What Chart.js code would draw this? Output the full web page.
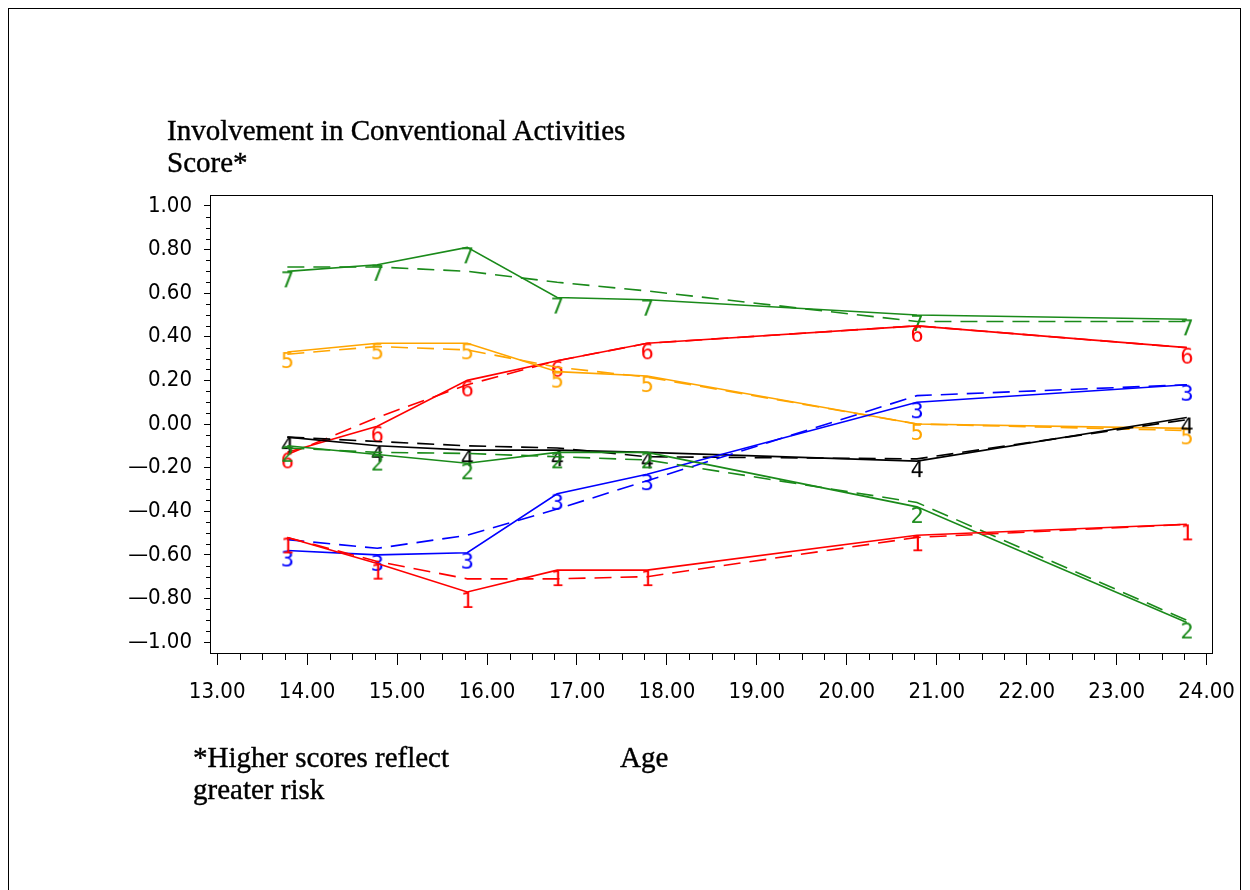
<!DOCTYPE html>
<html>
<head>
<meta charset="utf-8">
<script src="https://cdn.jsdelivr.net/npm/chart.js@4.4.1/dist/chart.umd.min.js"></script>
<style>
  body { margin: 0; background: #fff; width: 1250px; height: 890px; overflow: hidden; position: relative; }
  #frame { position: absolute; left: 8px; top: 8px; width: 1231px; height: 900px; border: 1px solid #000; border-bottom: none; }
  #wrap { position: absolute; left: 0; top: 0; width: 1250px; height: 890px; }
  .lbl { position: absolute; font-family: "Liberation Serif", "Times New Roman", serif; font-size: 29px; color: #000; white-space: nowrap; line-height: 1; -webkit-text-stroke: 0.4px #000; }
</style>
</head>
<body>
<div id="frame"></div>
<div id="wrap"><canvas id="chart" width="1250" height="890"></canvas></div>
<div class="lbl" style="left:167px; top:116px;">Involvement in Conventional Activities</div>
<div class="lbl" style="left:167px; top:148px;">Score*</div>
<div class="lbl" style="left:193px; top:743px;">*Higher scores reflect</div>
<div class="lbl" style="left:193px; top:775px;">greater risk</div>
<div class="lbl" style="left:620px; top:743px;">Age</div>
<script>
// ages at each wave
var ages = [13.78, 14.78, 15.78, 16.78, 17.78, 20.78, 23.78];

// observed (solid) and predicted (dashed) trajectories, one pair per group
var obs1 = [-0.52, -0.64, -0.77, -0.67, -0.67, -0.51, -0.46];
var pred1 = [-0.52, -0.63, -0.71, -0.71, -0.70, -0.52, -0.46];
var obs2 = [-0.10, -0.14, -0.18, -0.13, -0.13, -0.38, -0.91];
var pred2 = [-0.11, -0.13, -0.135, -0.15, -0.165, -0.36, -0.90];
var obs3 = [-0.58, -0.60, -0.59, -0.32, -0.23, 0.10, 0.18];
var pred3 = [-0.53, -0.57, -0.51, -0.39, -0.26, 0.13, 0.18];
var obs4 = [-0.06, -0.10, -0.12, -0.12, -0.13, -0.17, 0.03];
var pred4 = [-0.06, -0.08, -0.10, -0.11, -0.15, -0.16, 0.02];
var obs5 = [0.33, 0.37, 0.37, 0.24, 0.22, 0.00, -0.02];
var pred5 = [0.32, 0.355, 0.34, 0.26, 0.215, 0.00, -0.03];
var obs6 = [-0.13, -0.01, 0.20, 0.29, 0.37, 0.45, 0.35];
var pred6 = [-0.14, 0.03, 0.18, 0.29, 0.37, 0.45, 0.35];
var obs7 = [0.70, 0.73, 0.81, 0.58, 0.57, 0.50, 0.48];
var pred7 = [0.72, 0.72, 0.70, 0.65, 0.61, 0.47, 0.47];

var groupNames = ["1", "2", "3", "4", "5", "6", "7"];
var groupColors = ["#ff0000", "#1a8a1a", "#0000ff", "#000000", "#ffa500", "#ff0000", "#1a8a1a"];

var xTicks = [13, 14, 15, 16, 17, 18, 19, 20, 21, 22, 23, 24];
var xTickLabels = ["13.00", "14.00", "15.00", "16.00", "17.00", "18.00", "19.00", "20.00", "21.00", "22.00", "23.00", "24.00"];
var yTicks = [1, 0.8, 0.6, 0.4, 0.2, 0, -0.2, -0.4, -0.6, -0.8, -1];
var yTickLabels = ["1.00", "0.80", "0.60", "0.40", "0.20", "0.00", "\u20140.20", "\u20140.40", "\u20140.60", "\u20140.80", "\u20141.00"];

var tickFont = '"Liberation Sans Narrow", "DejaVu Sans Condensed", "Liberation Sans", sans-serif';

// small canvas with the group number, used as the point symbol
function digitSymbol(txt, color) {
  var c = document.createElement("canvas");
  c.width = 20;
  c.height = 40;
  var g = c.getContext("2d");
  g.fillStyle = color;
  g.font = '22px "DejaVu Sans Mono", monospace';
  g.textAlign = "center";
  g.textBaseline = "alphabetic";
  g.fillText(txt, 10, 36);
  return c;
}

function toPoints(vals) {
  return vals.map(function(v, i) { return { x: ages[i], y: v }; });
}

var observed = [obs1, obs2, obs3, obs4, obs5, obs6, obs7];
var predicted = [pred1, pred2, pred3, pred4, pred5, pred6, pred7];
var datasets = [];
for (var i = 0; i < groupNames.length; i++) {
  datasets.push({
    label: "Group " + groupNames[i],
    data: toPoints(observed[i]),
    borderColor: groupColors[i],
    borderWidth: 1.6,
    pointStyle: digitSymbol(groupNames[i], groupColors[i]),
    pointRadius: 5,
    tension: 0
  });
  datasets.push({
    label: "Group " + groupNames[i] + " predicted",
    data: toPoints(predicted[i]),
    borderColor: groupColors[i],
    borderWidth: 1.6,
    borderDash: [17, 9],
    pointRadius: 0,
    tension: 0
  });
}

// box around the plot plus the small in-between ticks
var framePlugin = {
  id: "frame",
  afterDraw: function(chart) {
    var ctx = chart.ctx, a = chart.chartArea;
    var xs = chart.scales.x, ys = chart.scales.y;
    ctx.save();
    ctx.strokeStyle = "#000";
    ctx.lineWidth = 1;
    ctx.strokeRect(Math.round(a.left) + 0.5, Math.round(a.top) + 0.5, Math.round(a.right - a.left), Math.round(a.bottom - a.top));
    ctx.beginPath();
    for (var v = -1; v <= 1.0001; v += 0.05) {
      if (Math.abs(Math.round(v * 5) - v * 5) < 0.001) continue;
      var py = Math.round(ys.getPixelForValue(v)) + 0.5;
      ctx.moveTo(a.left - 4, py);
      ctx.lineTo(a.left, py);
    }
    for (var u = 13; u <= 24.0001; u += 0.25) {
      if (Math.abs(Math.round(u) - u) < 0.001) continue;
      var px = Math.round(xs.getPixelForValue(u)) + 0.5;
      ctx.moveTo(px, a.bottom);
      ctx.lineTo(px, a.bottom + 7);
    }
    ctx.stroke();
    ctx.restore();
  }
};

new Chart(document.getElementById("chart"), {
  type: "line",
  data: { datasets: datasets },
  options: {
    responsive: false,
    animation: false,
    events: [],
    layout: { padding: { left: 0, top: 195, right: 38, bottom: 177 } },
    plugins: { legend: { display: false }, tooltip: { enabled: false }, title: { display: false } },
    scales: {
      x: {
        type: "linear",
        min: 12.92,
        max: 24.06,
        afterBuildTicks: function(s) { s.ticks = xTicks.map(function(v) { return { value: v }; }); },
        afterFit: function(s) { s.height = 60; },
        ticks: {
          autoSkip: false,
          maxRotation: 0,
          color: "#000",
          padding: 14,
          font: { family: tickFont, size: 22 },
          callback: function(v, i) { return xTickLabels[i]; }
        },
        grid: { drawOnChartArea: false, drawTicks: true, tickLength: 12, tickColor: "#000", tickWidth: 1 },
        border: { display: true, color: "#000", width: 1 }
      },
      y: {
        type: "linear",
        min: -1.05,
        max: 1.05,
        afterBuildTicks: function(s) { s.ticks = yTicks.map(function(v) { return { value: v }; }); },
        afterFit: function(s) { s.width = 210; },
        ticks: {
          autoSkip: false,
          color: "#000",
          padding: 12,
          font: { family: tickFont, size: 22 },
          callback: function(v, i) { return yTickLabels[i]; }
        },
        grid: { drawOnChartArea: false, drawTicks: true, tickLength: 6, tickColor: "#000", tickWidth: 1 },
        border: { display: true, color: "#000", width: 1 }
      }
    }
  },
  plugins: [framePlugin]
});
</script>
</body>
</html>
